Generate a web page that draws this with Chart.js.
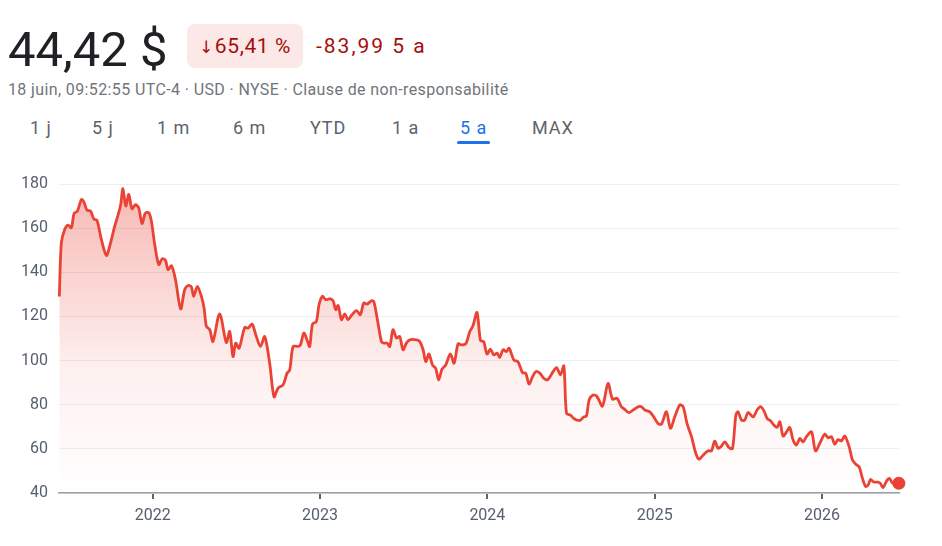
<!DOCTYPE html>
<html lang="fr">
<head>
<meta charset="utf-8">
<title>Cours sur 5 ans</title>
<script src="https://cdn.jsdelivr.net/npm/chart.js@4.4.1/dist/chart.umd.min.js"></script>
<style>
  body { margin: 0; background: #fff; font-family: Roboto, Arial, sans-serif; }
  #wrap { position: relative; width: 942px; height: 546px; overflow: hidden; }
  .price { position: absolute; left: 8px; top: 20px; font-size: 49px; color: #202124; line-height: 60px; }
  .badge { position: absolute; left: 187px; top: 24px; width: 116px; height: 44px; background: #fce8e6; border-radius: 8px;
           color: #a50e0e; font-size: 21px; line-height: 44px; text-align: center; letter-spacing: 0.6px; }
  .badge .arr { font-family: "DejaVu Sans", sans-serif; font-size: 17px; margin-right: 1px; }
  .delta { position: absolute; left: 316px; top: 24px; color: #a50e0e; font-size: 21px; line-height: 44px; letter-spacing: 2px; }
  .sub { position: absolute; left: 8px; top: 80px; font-size: 16px; color: #70757a; line-height: 20px; letter-spacing: 0.38px; }
  .tabs { position: absolute; top: 116px; left: 0; font-size: 18px; color: #5f6368; letter-spacing: 0.9px; }
  .tabs span { position: absolute; white-space: nowrap; line-height: 24px; }
  .tabs .on { color: #1a73e8; }
  .tabs .bar { position: absolute; left: 457px; top: 25px; width: 33px; height: 3px; background: #1a73e8; border-radius: 2px; }
  #chartBox { position: absolute; left: 0; top: 160px; width: 942px; height: 386px; }
</style>
</head>
<body>
<div id="wrap">
  <div class="price">44,42 $</div>
  <div class="badge"><span class="arr">↓</span>65,41 %</div>
  <div class="delta">-83,99 5 a</div>
  <div class="sub">18 juin, 09:52:55 UTC-4 · USD · NYSE · Clause de non-responsabilité</div>
  <div class="tabs">
    <span style="left:30px">1 j</span>
    <span style="left:92px">5 j</span>
    <span style="left:157px">1 m</span>
    <span style="left:233px">6 m</span>
    <span style="left:310px">YTD</span>
    <span style="left:392px">1 a</span>
    <span class="on" style="left:460px">5 a</span>
    <span style="left:532px">MAX</span>
    <div class="bar"></div>
  </div>
  <div id="chartBox"><canvas id="priceChart"></canvas></div>
</div>
<script>
const lineRed = '#ea4335'
const tickGray = '#56606e'

// dates as decimal years
const dates = [
  2021.442, 2021.454, 2021.474, 2021.494, 2021.514, 2021.530, 2021.550, 2021.574, 2021.589, 2021.607,
  2021.629, 2021.649, 2021.667, 2021.693, 2021.723, 2021.743, 2021.773, 2021.797, 2021.809, 2021.822,
  2021.839, 2021.857, 2021.876, 2021.897, 2021.916, 2021.936, 2021.956, 2021.976, 2021.992, 2022.012,
  2022.036, 2022.056, 2022.076, 2022.091, 2022.112, 2022.136, 2022.167, 2022.191, 2022.211, 2022.231,
  2022.245, 2022.267, 2022.291, 2022.307, 2022.321, 2022.341, 2022.360, 2022.400, 2022.440, 2022.460,
  2022.480, 2022.496, 2022.516, 2022.550, 2022.570, 2022.594, 2022.616, 2022.644, 2022.669, 2022.699,
  2022.725, 2022.749, 2022.779, 2022.803, 2022.819, 2022.839, 2022.868, 2022.883, 2022.903, 2022.922,
  2022.938, 2022.955, 2022.978, 2022.994, 2023.014, 2023.034, 2023.062, 2023.078, 2023.094, 2023.108,
  2023.128, 2023.148, 2023.167, 2023.188, 2023.218, 2023.241, 2023.261, 2023.281, 2023.307, 2023.321,
  2023.341, 2023.367, 2023.381, 2023.400, 2023.417, 2023.436, 2023.457, 2023.476, 2023.496, 2023.516,
  2023.536, 2023.576, 2023.596, 2023.616, 2023.632, 2023.651, 2023.672, 2023.691, 2023.709, 2023.729,
  2023.751, 2023.779, 2023.801, 2023.825, 2023.845, 2023.871, 2023.895, 2023.914, 2023.938, 2023.959,
  2023.978, 2023.998, 2024.018, 2024.038, 2024.058, 2024.074, 2024.094, 2024.114, 2024.130, 2024.158,
  2024.183, 2024.210, 2024.229, 2024.249, 2024.269, 2024.289, 2024.313, 2024.337, 2024.357, 2024.373,
  2024.393, 2024.413, 2024.437, 2024.457, 2024.473, 2024.497, 2024.516, 2024.536, 2024.556, 2024.576,
  2024.592, 2024.608, 2024.632, 2024.656, 2024.688, 2024.721, 2024.748, 2024.775, 2024.801, 2024.821,
  2024.845, 2024.871, 2024.901, 2024.921, 2024.941, 2024.971, 2024.994, 2025.020, 2025.040, 2025.070,
  2025.094, 2025.120, 2025.150, 2025.170, 2025.193, 2025.220, 2025.246, 2025.265, 2025.289, 2025.319,
  2025.339, 2025.359, 2025.379, 2025.399, 2025.419, 2025.445, 2025.465, 2025.485, 2025.498, 2025.519,
  2025.538, 2025.558, 2025.588, 2025.612, 2025.632, 2025.652, 2025.672, 2025.692, 2025.712, 2025.731,
  2025.748, 2025.767, 2025.788, 2025.807, 2025.827, 2025.847, 2025.867, 2025.887, 2025.907, 2025.937,
  2025.961, 2025.991, 2026.017, 2026.036, 2026.057, 2026.076, 2026.096, 2026.116, 2026.136, 2026.162,
  2026.182, 2026.202, 2026.222, 2026.242, 2026.260, 2026.275, 2026.290, 2026.309, 2026.335, 2026.349,
  2026.365, 2026.389, 2026.405, 2026.421, 2026.459
]

// closing prices in USD
const prices = [
  129.0, 153.4, 159.4, 161.4, 160.2, 166.7, 167.7, 173.0, 171.8, 168.2,
  167.7, 164.0, 163.6, 154.9, 147.6, 151.8, 160.9, 167.0, 170.8, 177.9,
  170.0, 175.3, 168.8, 170.6, 169.3, 162.1, 166.7, 167.0, 163.2, 152.6,
  143.5, 146.1, 145.5, 141.2, 143.0, 136.7, 123.4, 132.1, 134.0, 133.4,
  129.1, 133.6, 129.1, 123.8, 115.5, 114.0, 108.6, 121.2, 108.2, 113.2,
  101.8, 107.9, 105.6, 115.0, 114.7, 116.5, 111.7, 106.4, 110.9, 98.8,
  83.6, 87.5, 89.0, 94.3, 95.8, 106.4, 106.4, 107.1, 112.5, 109.4,
  106.4, 116.5, 117.7, 125.3, 129.1, 127.6, 128.0, 127.1, 123.0, 125.0,
  118.5, 121.1, 118.5, 120.5, 122.6, 120.8, 126.1, 125.6, 127.1, 126.8,
  119.3, 108.6, 107.9, 107.9, 106.4, 114.0, 110.2, 110.9, 104.9, 107.9,
  109.4, 109.4, 108.6, 104.9, 99.5, 103.0, 98.0, 96.5, 91.2, 96.1,
  98.0, 103.0, 98.8, 107.6, 107.1, 107.6, 113.2, 115.8, 121.8, 109.1,
  108.6, 103.0, 105.2, 102.6, 103.4, 101.5, 104.9, 104.1, 105.6, 100.3,
  99.5, 94.5, 94.3, 89.4, 92.5, 95.0, 94.3, 92.0, 91.2, 92.5,
  95.0, 96.8, 93.5, 97.6, 76.1, 75.3, 73.8, 73.0, 73.0, 74.5,
  74.8, 82.1, 84.4, 83.6, 79.4, 89.7, 82.5, 82.9, 79.1, 77.9,
  76.4, 77.6, 79.1, 79.1, 77.6, 76.8, 74.5, 71.5, 71.2, 76.8,
  69.3, 74.5, 79.9, 79.1, 71.5, 65.5, 57.9, 55.3, 57.1, 59.1,
  59.1, 63.5, 60.2, 61.2, 63.2, 60.5, 60.2, 75.3, 76.8, 73.0,
  73.0, 76.5, 74.5, 77.6, 79.1, 77.3, 73.8, 72.7, 70.8, 69.7,
  72.3, 65.8, 67.7, 69.7, 64.0, 61.7, 64.7, 63.2, 65.5, 67.7,
  59.1, 63.2, 66.7, 65.0, 65.5, 62.1, 64.2, 63.6, 65.8, 61.0,
  54.9, 53.0, 51.8, 46.5, 43.0, 43.5, 46.1, 45.0, 44.9, 44.3,
  42.5, 45.8, 46.5, 44.5, 44.42
]

const yearTicks = [2022, 2023, 2024, 2025, 2026]
const priceTicks = [40, 60, 80, 100, 120, 140, 160, 180]

const points = dates.map((d, i) => ({ x: d, y: prices[i] }))
const lastIndex = points.length - 1

const canvas = document.getElementById('priceChart')

new Chart(canvas, {
  type: 'line',
  data: {
    datasets: [{
      data: points,
      borderColor: lineRed,
      borderWidth: 2.8,
      tension: 0.3,
      fill: 'origin',
      clip: false,
      backgroundColor: function (ctx) {
        const area = ctx.chart.chartArea
        if (!area) return 'rgba(234,67,53,0.2)'
        const g = ctx.chart.ctx.createLinearGradient(0, area.top, 0, area.bottom)
        g.addColorStop(0, 'rgba(234,67,53,0.38)')
        g.addColorStop(0.6, 'rgba(234,67,53,0.08)')
        g.addColorStop(1, 'rgba(234,67,53,0)')
        return g
      },
      pointRadius: ctx => ctx.dataIndex === lastIndex ? 6.5 : 0,
      pointHoverRadius: 0,
      pointBackgroundColor: lineRed,
      pointBorderWidth: 0
    }]
  },
  options: {
    responsive: true,
    maintainAspectRatio: false,
    animation: false,
    layout: { padding: { top: 24, right: 43, left: 0, bottom: 0 } },
    plugins: { legend: { display: false }, tooltip: { enabled: false } },
    scales: {
      x: {
        type: 'linear',
        min: 2021.44,
        max: 2026.46,
        afterFit: s => { s.height = 53 },
        afterBuildTicks: s => { s.ticks = yearTicks.map(v => ({ value: v })) },
        grid: { drawOnChartArea: false, drawTicks: true, tickLength: 6, color: '#5f6368', lineWidth: 2 },
        border: { display: true, color: '#9aa0a6', width: 1.5 },
        ticks: {
          padding: 7,
          color: tickGray,
          font: { family: 'Roboto', size: 16 },
          callback: v => String(v),
          maxRotation: 0
        }
      },
      y: {
        min: 40,
        max: 180,
        afterFit: s => { s.width = 59 },
        afterBuildTicks: s => { s.ticks = priceTicks.map(v => ({ value: v })) },
        grid: { color: '#eceff1', lineWidth: 1, drawTicks: false },
        border: { display: false },
        ticks: {
          padding: 11,
          color: tickGray,
          font: { family: 'Roboto', size: 16 }
        }
      }
    }
  }
})
</script>
</body>
</html>
